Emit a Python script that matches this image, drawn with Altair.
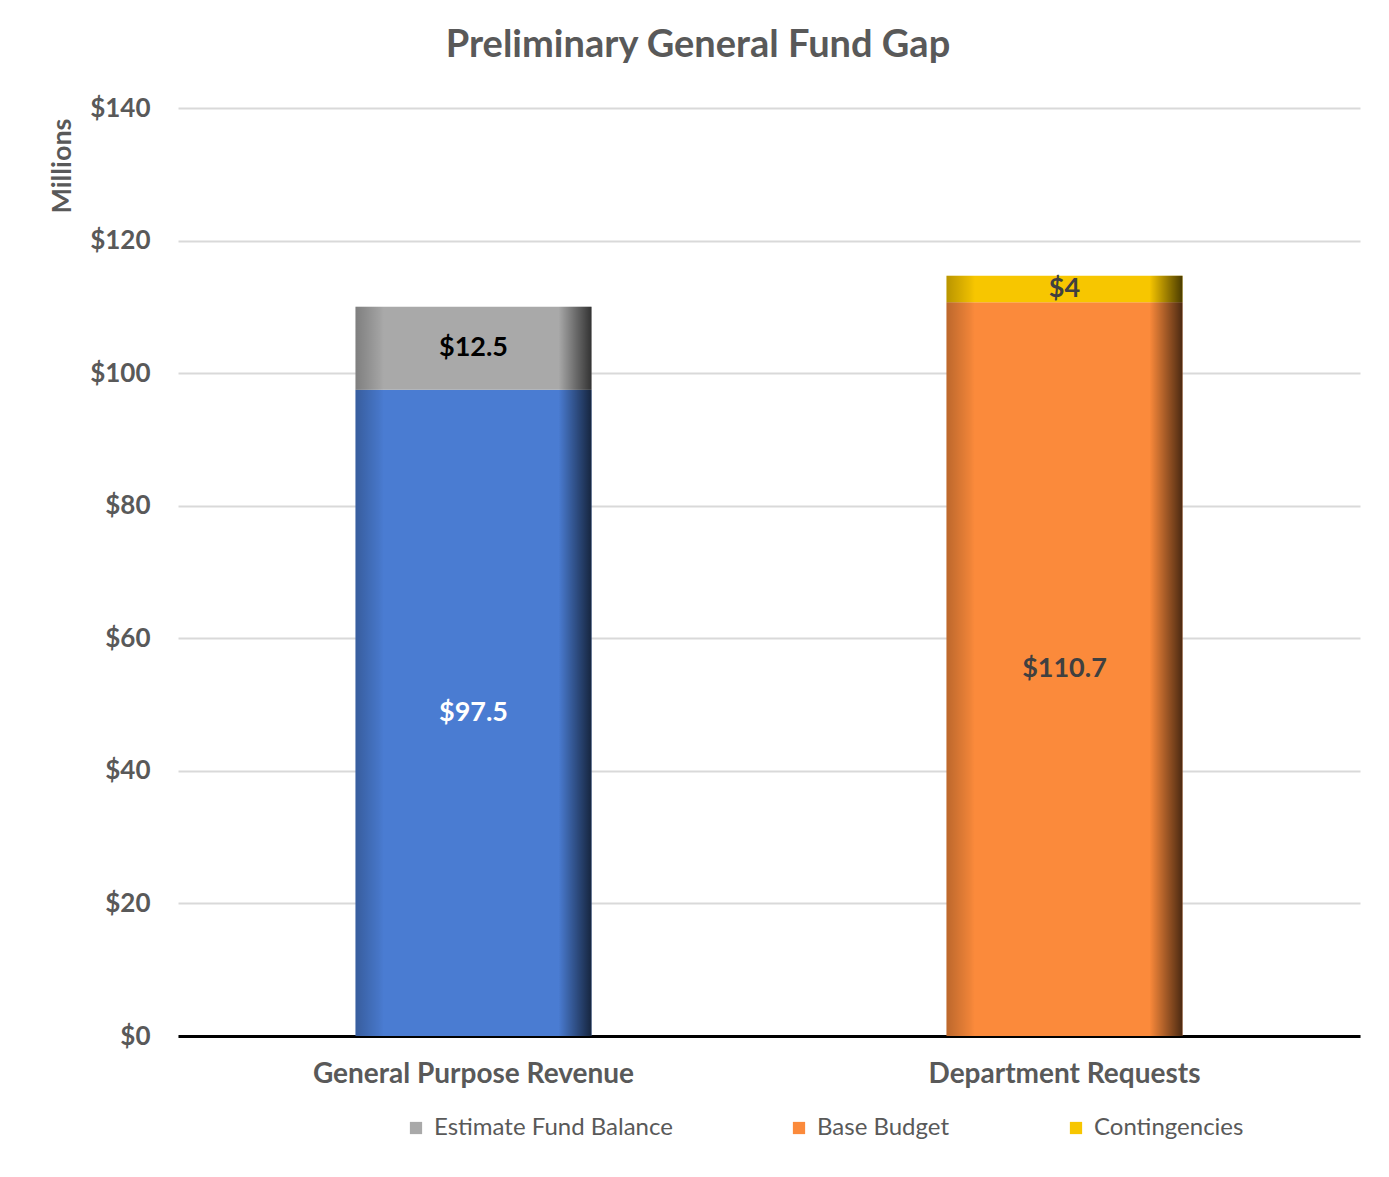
import altair as alt
import pandas as pd

categories = ["General Purpose Revenue", "General Purpose Revenue", "Department Requests", "Department Requests"]
series = ["General Purpose Revenue", "Estimate Fund Balance", "Base Budget", "Contingencies"]
values = [97.5, 12.5, 110.7, 4.0]
stack_order = [0, 1, 0, 1]
labels = ["$97.5", "$12.5", "$110.7", "$4"]
label_colors = ["#ffffff", "#000000", "#404040", "#404040"]

cat_order = ["General Purpose Revenue", "Department Requests"]
series_colors = ["#4a7cd2", "#a9a9a9", "#fb8a3b", "#f7c600"]
legend_items = ["Estimate Fund Balance", "Base Budget", "Contingencies"]

df = pd.DataFrame({
    "category": categories,
    "series": series,
    "value": values,
    "order": stack_order,
    "label": labels,
    "lcolor": label_colors,
})
df["top"] = df.groupby("category")["value"].cumsum()
df["mid"] = df["top"] - df["value"] / 2

FONT = "Lato"
GREY = "#595959"

x_enc = alt.X(
    "category:N",
    sort=cat_order,
    scale=alt.Scale(paddingInner=0, paddingOuter=0),
    axis=alt.Axis(
        title=None, labelAngle=0, labelFontSize=28, labelFontWeight="bold",
        labelColor=GREY, labelFont=FONT, labelPadding=24, ticks=False, labelLimit=700,
        domainColor="#000000", domainWidth=3, grid=False,
    ),
)

y_enc = alt.Y(
    "value:Q",
    stack="zero",
    scale=alt.Scale(domain=[0, 140], nice=False),
    axis=alt.Axis(
        title="Millions", values=[0, 20, 40, 60, 80, 100, 120, 140],
        labelExpr="'$' + datum.value", labelFontSize=26, labelFontWeight="bold",
        labelColor=GREY, labelFont=FONT, labelPadding=28, ticks=False, domain=False,
        gridColor="#d9d9d9", gridWidth=2,
        titleFont=FONT, titleFontSize=27, titleFontWeight="bold", titleColor=GREY,
        titleAngle=-90, titleX=-116, titleY=10, titleAlign="right", titleBaseline="middle",
    ),
)

bars = alt.Chart(df).mark_bar(width=236).encode(
    x=x_enc,
    y=y_enc,
    color=alt.Color(
        "series:N",
        scale=alt.Scale(domain=series, range=series_colors),
        legend=alt.Legend(
            values=legend_items, title=None, orient="none", direction="horizontal",
            legendX=226, legendY=1008, symbolType="square", symbolSize=150,
            symbolStrokeWidth=0, labelFont=FONT, labelFontSize=24, labelColor=GREY,
            columnPadding=114, gridAlign="none", labelOffset=6, labelLimit=400,
        ),
    ),
    order=alt.Order("order:Q"),
)

edge_gradient = alt.Gradient(
    gradient="linear", x1=0, y1=0, x2=1, y2=0,
    stops=[
        alt.GradientStop(offset=0.0, color="rgba(0,0,0,0.25)"),
        alt.GradientStop(offset=0.1, color="rgba(0,0,0,0.05)"),
        alt.GradientStop(offset=0.12, color="rgba(0,0,0,0)"),
        alt.GradientStop(offset=0.86, color="rgba(0,0,0,0)"),
        alt.GradientStop(offset=0.9, color="rgba(0,0,0,0.2)"),
        alt.GradientStop(offset=1.0, color="rgba(0,0,0,0.7)"),
    ],
)

shade = alt.Chart(df).mark_bar(width=236, color=edge_gradient).encode(
    x=alt.X("category:N", sort=cat_order),
    y=alt.Y("value:Q", stack="zero"),
    order=alt.Order("order:Q"),
    detail="series:N",
)

texts = alt.Chart(df).mark_text(font=FONT, fontSize=27, fontWeight="bold").encode(
    x=alt.X("category:N", sort=cat_order),
    y=alt.Y("mid:Q"),
    text="label:N",
    color=alt.Color("lcolor:N", scale=None),
)

chart = alt.layer(bars, shade, texts).properties(
    width=1182,
    height=928,
    title=alt.TitleParams(
        "Preliminary General Fund Gap", font=FONT, fontSize=38, fontWeight="bold",
        color=GREY, anchor="middle", frame="bounds", offset=30, dx=-6,
    ),
    autosize=alt.AutoSizeParams(type="none"),
    padding={"left": 170, "top": 100, "right": 21, "bottom": 133},
).configure_view(stroke=None)

chart.save("out.html", embed_options={"renderer": "svg", "actions": False})
